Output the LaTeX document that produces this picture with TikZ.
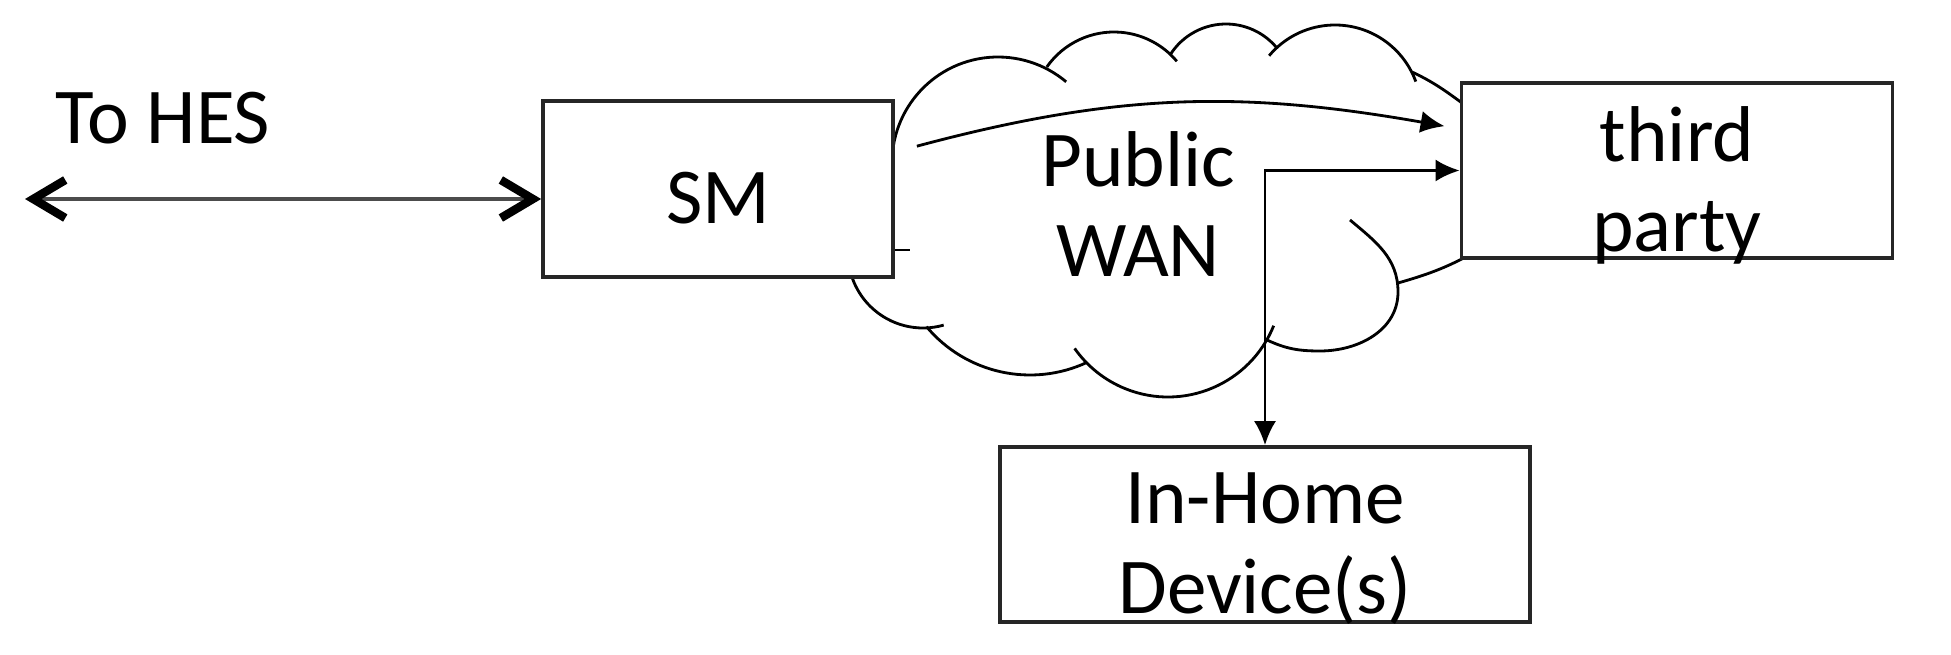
\documentclass[tikz,border=0pt]{standalone}
\usepackage{fontspec}
\setmainfont{Carlito}
\usepackage{tikz}
\usetikzlibrary{positioning,arrows.meta,calc}
\tikzset{box/.style={draw=black!85,fill=white,line width=1pt,inner sep=0pt}}
\tikzset{lbl/.style={align=center,inner sep=0pt,font=\fontsize{22.5}{25.6}\selectfont}}
\tikzset{cloudline/.style={line width=0.8pt}}
\tikzset{conn/.style={line width=0.8pt,>={Latex[length=0.24cm,width=0.22cm]}}}
\tikzset{barb/.tip={Straight Barb[length=0.32cm,width=0.38cm,line width=2.4pt,black]}}
\tikzset{dbl/.style={line width=1.2pt,draw=black!70,barb-barb}}

\begin{document}
\begin{tikzpicture}[x=0.01cm,y=0.01cm]
	\useasboundingbox (0,0) rectangle (1951,-655);

	%% Public WAN cloud: one arc per puff (centre x/y, radius, start, end)
	\foreach \cx/\cy/\r/\a/\b in {998/-163/106/185/50, 1114/-114/82/145/40,
		1226/-90/66/148/40, 1335/-111/86/140/20, 1168/-283/114/-22/-145,
		1030/-240/135/-65/-140, 923/-253/75/-74/-180}
		\draw[cloudline] ([shift={(\a:\r)}]\cx,\cy) arc[start angle=\a,end angle=\b,radius=\r];
	\draw[cloudline] (1412,-72) to[out=-25,in=145] (1480,-116);
	\draw[cloudline] (1480,-249) to[out=-150,in=16] (1398,-283);
	\draw[cloudline] (1350,-220) to[out=-40,in=90] (1398,-292)
		to[out=-90,in=0] (1320,-351) to[out=180,in=-25] (1267,-340);
	\draw[cloudline] (893,-250) -- (910,-250);
	\node[lbl] (wan) at (1138,-204) {Public\\WAN};

	%% Boxes
	\node[box,minimum width=3.5cm,minimum height=1.76cm,
		label={[lbl,yshift=-0.09cm]center:SM}] (sm) at (718,-189) {};
	\node[box,minimum width=4.31cm,minimum height=1.75cm,
		label={[lbl,yshift=-0.145cm]center:{third\\party}}] (tp) at (1677,-170.5) {};
	\node[box,minimum width=5.3cm,minimum height=1.75cm,
		label={[lbl,yshift=-0.145cm]center:{In-Home\\Device(s)}}] (ihd) at (1265,-534.5) {};
	\node[lbl,anchor=base] (hes) at (163,-144) {To HES};
	\coordinate (hesend) at (25,-199);

	%% Connections
	\draw[dbl] (hesend) -- (hesend -| sm.west);
	\draw[conn,->] ([shift={(22,-47)}]sm.north east) to[out=15,in=170] ([shift={(-15,-45)}]tp.north west);
	\draw[conn,<->] (ihd.north) |- (tp.west);
\end{tikzpicture}
\end{document}
